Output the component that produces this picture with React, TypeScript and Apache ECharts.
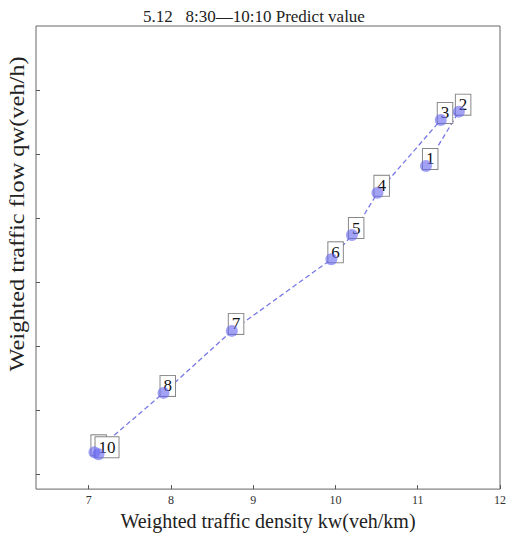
import React, { useEffect, useRef } from "react";
import * as echarts from "echarts";

const pointNames = ["1", "2", "3", "4", "5", "6", "7", "8", "9", "10"];
const densityKw = [11.1, 11.5, 11.28, 10.51, 10.2, 9.95, 8.74, 7.91, 7.07, 7.12];
const flowQw = [5.82, 6.67, 6.54, 5.4, 4.74, 4.36, 3.24, 2.27, 1.34, 1.31];
const xTicks = [7, 8, 9, 10, 11, 12];
const yTicks = [1, 2, 3, 4, 5, 6, 7];

const SERIF = "'Liberation Serif', 'Times New Roman', serif";

export default function App() {
  const ref = useRef<HTMLDivElement>(null);
  useEffect(() => {
    if (!ref.current) return;
    const chart = echarts.init(ref.current, null, { renderer: "svg" });
    const data = densityKw.map((x, i) => ({ name: pointNames[i], value: [x, flowQw[i]] }));
    chart.setOption({
      animation: false,
      backgroundColor: "#fff",
      title: {
        text: "5.12   8:30\u201410:10 Predict value",
        left: 138,
        top: 3,
        textStyle: { fontFamily: SERIF, fontSize: 17, fontWeight: "normal", color: "#222" },
      },
      grid: { left: 36, right: 11, top: 26, bottom: 39, show: true, borderColor: "#666", borderWidth: 1, backgroundColor: "transparent" },
      xAxis: {
        type: "value",
        min: 6.36,
        max: 12,
        splitLine: { show: false },
        axisLine: { show: false },
        axisTick: { show: true, inside: true, length: 4, customValues: xTicks, lineStyle: { color: "#555" } },
        axisLabel: { customValues: xTicks, fontFamily: SERIF, fontSize: 12, color: "#333", margin: 5 },
        name: "Weighted traffic density kw(veh/km)",
        nameLocation: "middle",
        nameGap: 17,
        nameTextStyle: { fontFamily: SERIF, fontSize: 20, color: "#222" },
      },
      yAxis: {
        type: "value",
        min: 0.765,
        max: 8.01,
        splitLine: { show: false },
        axisLine: { show: false },
        axisTick: { show: true, inside: true, length: 4, customValues: yTicks, lineStyle: { color: "#555" } },
        axisLabel: { show: false },
      },
      graphic: [
        {
          type: "text",
          x: 17,
          y: 214,
          rotation: Math.PI / 2,
          scaleX: 1.22,
          style: {
            text: "Weighted traffic flow qw(veh/h)",
            fontFamily: SERIF,
            fontSize: 20,
            fill: "#222",
            align: "center",
            verticalAlign: "middle",
          },
        },
      ],
      series: [
        {
          type: "line",
          z: 2,
          data,
          symbol: "circle",
          symbolSize: 12,
          lineStyle: { color: "#7878e6", width: 1.3, type: [5, 3] },
          itemStyle: { color: "rgba(0,0,0,0)" },
          label: {
            show: true,
            position: [3, -11],
            formatter: (p: any) => p.name,
            fontFamily: SERIF,
            fontSize: 17,
            lineHeight: 18,
            color: "#111",
            backgroundColor: "#fff",
            borderColor: "#888",
            borderWidth: 1,
            padding: [1, 3, 1, 3],
          },
        },
        {
          type: "scatter",
          z: 3,
          data,
          symbol: "circle",
          symbolSize: 12,
          itemStyle: { color: "rgba(100,100,242,0.75)" },
        },
      ],
    });
    return () => chart.dispose();
  }, []);
  return <div ref={ref} style={{ width: 511, height: 536, position: "absolute", left: 0, top: 0 }} />;
}
